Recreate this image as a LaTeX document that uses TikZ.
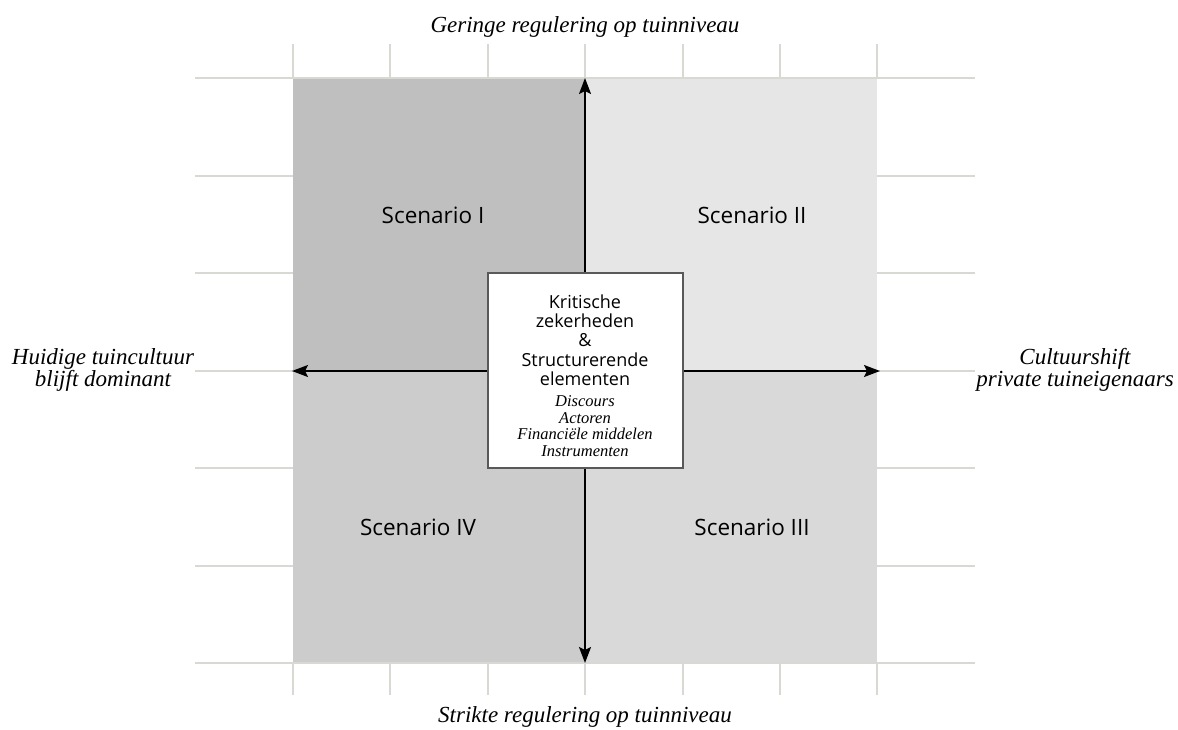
\documentclass[tikz,border=0pt]{standalone}
\usepackage{fontspec}
\setmainfont{Liberation Serif}
\newfontfamily\scfont{Open Sans}
\usetikzlibrary{arrows.meta}
\definecolor{gridc}{HTML}{D9D9D3}
\definecolor{qone}{HTML}{BFBFBF}
\definecolor{qtwo}{HTML}{E6E6E6}
\definecolor{qthree}{HTML}{D9D9D9}
\definecolor{qfour}{HTML}{CCCCCC}
\tikzset{
  gridline/.style={draw=gridc,line width=1.5pt},
  axis/.style={draw=black,line width=1.8pt,{Stealth[length=16pt,width=12pt,inset=3pt]}-{Stealth[length=16pt,width=12pt,inset=3pt]}},
  axlabel/.style={font=\fontsize{23}{22}\selectfont\itshape,align=center},
  sclabel/.style={font=\scfont\fontsize{22.5}{24}\selectfont},
  centerbox/.style={draw=black!65,line width=1.2pt,fill=white,minimum width=195pt,minimum height=195pt,inner sep=0pt}
}
\begin{document}
\begin{tikzpicture}[x=1pt,y=-1pt]
\useasboundingbox (0,0) rectangle (1178,729);
% quadrants
\fill[qone] (293,78) rectangle (585,371);
\fill[qtwo] (585,78) rectangle (877,371);
\fill[qthree] (585,371) rectangle (877,663);
\fill[qfour] (293,371) rectangle (585,663);
% grid
\foreach \x in {293,390,488,585,683,780,877} {
  \draw[gridline] (\x,44) -- (\x,78);
  \draw[gridline] (\x,663) -- (\x,695);
}
\foreach \y in {78,176,273,371,468,566,663} {
  \draw[gridline] (195,\y) -- (293,\y);
  \draw[gridline] (877,\y) -- (975,\y);
}
\draw[gridline] (293,78) -- (877,78);
\draw[gridline] (293,663) -- (877,663);
% axes
\coordinate (top) at (585,78);
\coordinate (bot) at (585,663);
\coordinate (lft) at (292,371);
\coordinate (rgt) at (880,371);
\draw[axis] (top) -- (bot);
\draw[axis] (lft) -- (rgt);
% center box
\node[centerbox] (box) at (585.5,370.5) {};
\node[font=\scfont\fontsize{18}{19.3}\selectfont,align=center,anchor=north] (kt) at (585,291)
  {Kritische\\zekerheden\\\&\\Structurerende\\elementen};
\node[font=\fontsize{16.5}{16.7}\selectfont\itshape,align=center,anchor=north] (it) at (585,392)
  {Discours\\Actoren\\Financiële middelen\\Instrumenten};
% scenario labels
\node[sclabel] (s1) at (433,215) {Scenario I};
\node[sclabel] (s2) at (752,215) {Scenario II};
\node[sclabel] (s3) at (752,527) {Scenario III};
\node[sclabel] (s4) at (418,527) {Scenario IV};
% axis labels
\node[axlabel] (lt) at (585,27) {Geringe regulering op tuinniveau};
\node[axlabel] (lb) at (585,717) {Strikte regulering op tuinniveau};
\node[axlabel] (ll) at (103,370) {Huidige tuincultuur\\blijft dominant};
\node[axlabel] (lr) at (1075,370) {Cultuurshift\\private tuineigenaars};
\end{tikzpicture}
\end{document}
